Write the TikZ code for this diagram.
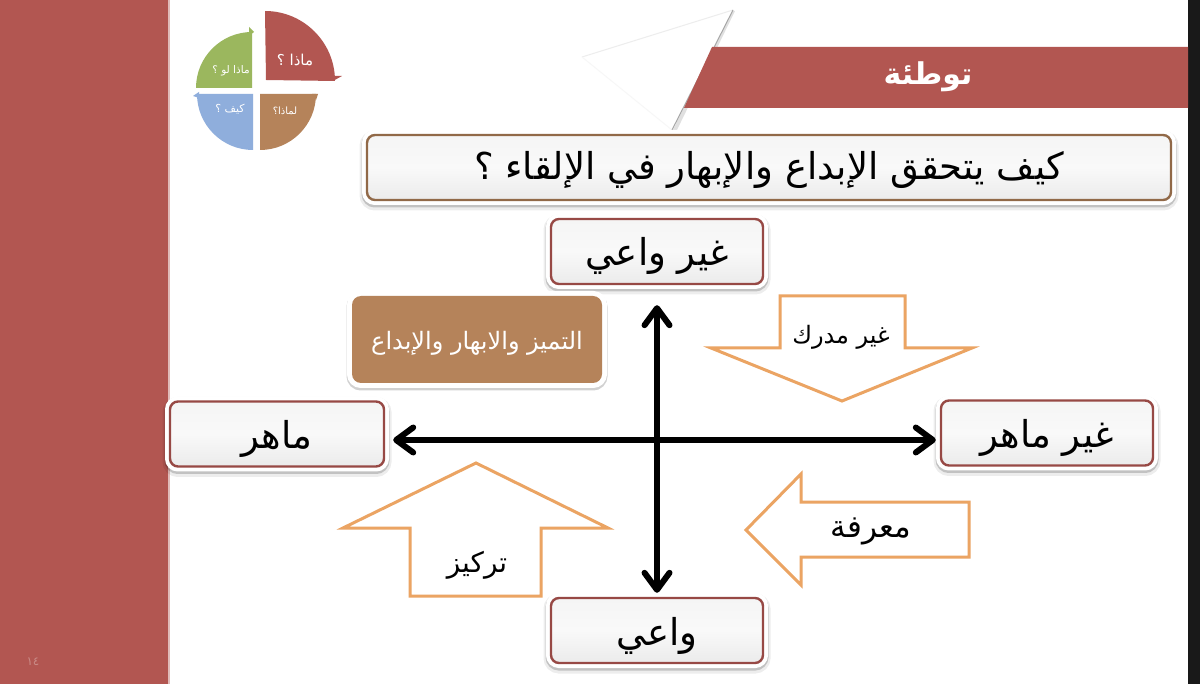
\documentclass[tikz,border=0pt]{standalone}
\usepackage{fontspec}
\usetikzlibrary{arrows.meta,calc}
\TeXXeTstate=1
\newfontfamily\arabicfont[Script=Arabic]{DejaVu Sans}
\newcommand{\ar}[1]{\arabicfont\beginR #1\endR}
\definecolor{panelred}{HTML}{B25651}
\definecolor{brownfill}{HTML}{B5835A}
\definecolor{greenfill}{HTML}{9BB75E}
\definecolor{bluefill}{HTML}{8FAEDC}
\definecolor{orangeline}{HTML}{EBA463}
\definecolor{facetop}{HTML}{F5F5F5}
\definecolor{facemid}{HTML}{F9F9F9}
\definecolor{facebot}{HTML}{EBEBEB}
\tikzset{
  haloed/.style={rounded corners=8pt,
    preaction={draw=black,draw opacity=.07,line width=15pt,transform canvas={yshift=-3pt}},
    preaction={draw=black,draw opacity=.18,line width=11pt,transform canvas={yshift=-2pt}},
    preaction={draw=white,line width=10pt},
    top color=facetop,bottom color=facebot,middle color=facemid,
    line width=2.4pt,text=black,inner sep=0pt},
  redbox/.style={haloed,draw=panelred!85!black,minimum width=212pt,minimum height=65pt,text height=42pt,text depth=13pt,font=\fontsize{37}{42}\selectfont},
  axis/.style={line width=5.5pt,black,{Straight Barb[round,length=17pt,width=25pt,line width=6pt]}-{Straight Barb[round,length=17pt,width=25pt,line width=6pt]}},
  blockarrow/.style={draw=orangeline,line width=3pt,fill=white,miter limit=10},
  sectorlabel/.style={text=white,inner sep=0pt}
}
\begin{document}
\begin{tikzpicture}[x=1pt,y=-1pt]
\useasboundingbox (0,0) rectangle (1200,684);
\fill[white] (0,0) rectangle (1200,684);
\fill[panelred] (0,0) rectangle (168,684);
\fill[panelred!40!white] (168,0) rectangle (170,684);
\fill[black!90] (1188,0) rectangle (1200,684);
% decorative triangle
\fill[black,opacity=.12] (735,11) -- (676,132) -- (672,132) -- (731,11) -- cycle;
\fill[white] (733,10) -- (582,57) -- (672,130) -- cycle;
\draw[black!7,line width=1pt] (582,57) -- (733,10);
\draw[black!3,line width=1pt] (582,57) -- (672,130);
\draw[black!35,line width=1pt] (733,10) -- (672,130);
% title banner
\fill[panelred] (712,47) -- (1188,47) -- (1188,108) -- (684,108) -- cycle;
\node[text=white,font=\fontsize{30}{34}\selectfont\bfseries,inner sep=0pt] (title) at (928,77) {\ar{توطئة}};
% pie
\fill[panelred] (266,80) -- (265,11) arc[start angle=-90,end angle=0,radius=70] -- cycle;
\fill[panelred] (333,76) -- (342,76) -- (333,81) -- cycle;
\fill[brownfill] (260,94) -- (316,94) arc[start angle=0,end angle=90,radius=56] -- cycle;
\fill[brownfill] (312,94) -- (318,94) -- (316,100) -- cycle;
\fill[bluefill] (253,94) -- (253,150) arc[start angle=90,end angle=180,radius=56] -- cycle;
\fill[bluefill] (193,96) -- (199,92) -- (199,98) -- cycle;
\fill[greenfill] (252,88) -- (196,88) arc[start angle=180,end angle=270,radius=56] -- cycle;
\fill[greenfill] (249,27) -- (254,32) -- (249,36) -- cycle;
\node[sectorlabel,font=\fontsize{15}{17}\selectfont] (q1) at (295,60) {\ar{ماذا ؟}};
\node[sectorlabel,font=\fontsize{10.5}{12}\selectfont] (q2) at (231,71) {\ar{ماذا لو ؟}};
\node[sectorlabel,font=\fontsize{11}{13}\selectfont] (q3) at (230,109) {\ar{كيف ؟}};
\node[sectorlabel,font=\fontsize{10}{12}\selectfont] (q4) at (285,111) {\ar{لماذا؟}};
% question
\node[haloed,draw=brownfill!80!black,minimum width=804pt,minimum height=65pt,text height=38pt,text depth=13pt,font=\fontsize{37}{42}\selectfont] (question) at (769,167.5) {\ar{كيف يتحقق الإبداع والإبهار في الإلقاء ؟}};
% block arrows
\draw[blockarrow] (780,296) -- (905,296) -- (905,348) -- (972,348) -- (842,401) -- (711,348) -- (780,348) -- cycle;
\draw[blockarrow] (476,463) -- (608,528) -- (541,528) -- (541,596) -- (410,596) -- (410,528) -- (343,528) -- cycle;
\draw[blockarrow] (746,530) -- (801,474) -- (801,502) -- (969,502) -- (969,557) -- (801,557) -- (801,585) -- cycle;
\node[inner sep=0pt,font=\fontsize{24}{28}\selectfont] (l1) at (841,337) {\ar{غير مدرك}};
\node[inner sep=0pt,font=\fontsize{28}{32}\selectfont] (l2) at (477,565) {\ar{تركيز}};
\node[inner sep=0pt,font=\fontsize{31}{36}\selectfont] (l3) at (871,531) {\ar{معرفة}};
% boxes
\node[redbox] (top) at (657,251.5) {\ar{غير واعي}};
\node[redbox] (bottom) at (657,630.5) {\ar{واعي}};
\node[redbox,minimum width=214pt] (maher) at (277,434) {\ar{ماهر}};
\node[redbox] (notmaher) at (1047,433) {\ar{غير ماهر}};
\node[rounded corners=9pt,fill=brownfill,minimum width=250pt,minimum height=87pt,inner sep=0pt,text height=26pt,text depth=6pt,
  preaction={draw=black,draw opacity=.18,line width=11pt,transform canvas={yshift=-2pt}},
  preaction={draw=white,line width=10pt},
  text=white,font=\fontsize{24}{28}\selectfont] (excel) at (477,339.5) {\ar{التميز والابهار والإبداع}};
% axes
\draw[axis] ([xshift=8pt,yshift=-6pt]maher.east) -- ([xshift=-4pt,yshift=-7pt]notmaher.west);
\draw[axis] ([yshift=-20pt]top.south) -- ([yshift=4pt]bottom.north);
% page number
\node[text=panelred!70!white,inner sep=0pt,font=\fontsize{12}{14}\selectfont] (page) at (33,662) {\arabicfont\beginL ١٤\endL};
\end{tikzpicture}
\end{document}
